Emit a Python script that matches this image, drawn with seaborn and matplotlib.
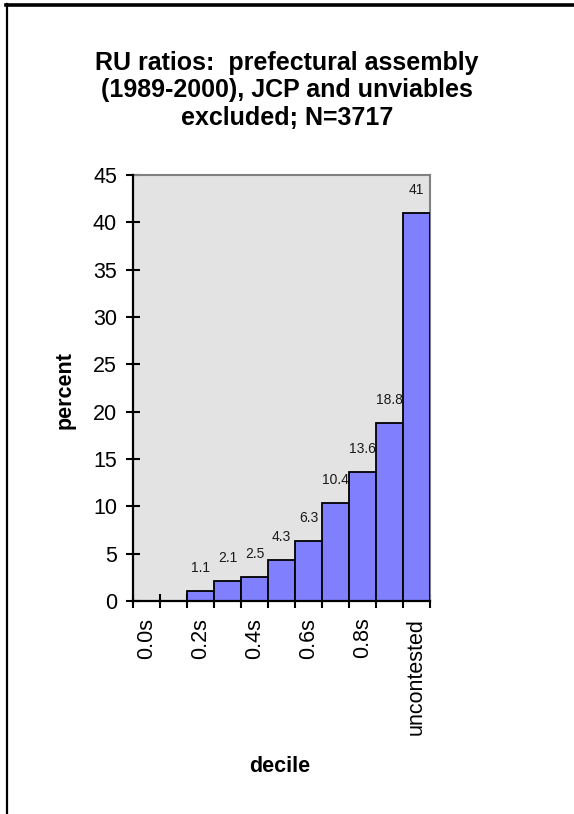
import numpy as np
import pandas as pd
import matplotlib
matplotlib.use("Agg")
import matplotlib.pyplot as plt
from matplotlib.lines import Line2D
import seaborn as sns

# Decile categories of the RU ratio, plus uncontested races
deciles = ["0.0s", "0.1s", "0.2s", "0.3s", "0.4s", "0.5s", "0.6s", "0.7s",
           "0.8s", "0.9s", "uncontested"]
percent = [0.0, 0.0, 1.1, 2.1, 2.5, 4.3, 6.3, 10.4, 13.6, 18.8, 41.0]
shown_labels = ["0.0s", "0.2s", "0.4s", "0.6s", "0.8s", "uncontested"]
y_ticks = [0, 5, 10, 15, 20, 25, 30, 35, 40, 45]

title = "RU ratios:  prefectural assembly\n(1989-2000), JCP and unviables\nexcluded; N=3717"

plt.rcParams["font.family"] = ["Liberation Sans", "DejaVu Sans"]

W, H = 574, 814
fig = plt.figure(figsize=(W / 100, H / 100), dpi=100)
fig.patch.set_facecolor("white")

left, right, top, bottom = 133, 430, 175, 601
ax = fig.add_axes([left / W, 1 - bottom / H, (right - left) / W, (bottom - top) / H])
ax.set_facecolor("#E3E3E3")

df = pd.DataFrame({"decile": deciles, "percent": percent})
sns.barplot(data=df, x="decile", y="percent", order=deciles, color="#8080FF",
            saturation=1, width=1.0, edgecolor="black", linewidth=1.3, ax=ax,
            zorder=3)

# value labels above each nonzero bar
for i, v in enumerate(percent):
    if v > 0:
        txt = f"{v:g}"
        ax.annotate(txt, (i, v), xytext=(0, 16.5), textcoords="offset points",
                    ha="center", va="center", fontsize=10, color="#1a1a1a",
                    zorder=2)

ax.set_xlim(-0.5, len(deciles) - 0.5)
ax.set_ylim(0, 45)
ax.set_yticks(y_ticks)
ax.set_yticklabels([str(t) for t in y_ticks], fontsize=15.5)

# boundary ticks between categories, labels on every other category
ax.set_xticks(np.arange(-0.5, len(deciles)), labels=[""] * (len(deciles) + 1))
ax.set_xticks([deciles.index(s) for s in shown_labels], labels=shown_labels,
              minor=True, rotation=90, fontsize=15.5)
ax.tick_params(axis="x", which="minor", length=0, pad=12)
ax.tick_params(axis="x", which="major", direction="inout", length=10, width=1.5)
ax.tick_params(axis="y", direction="inout", length=10, width=1.5, pad=6.5)

for side in ["left", "bottom"]:
    ax.spines[side].set_color("black")
    ax.spines[side].set_linewidth(1.6)
    ax.spines[side].set_zorder(5)
for side in ["top", "right"]:
    ax.spines[side].set_color("#808080")
    ax.spines[side].set_linewidth(1.5)

ax.set_xlabel("")
ax.set_ylabel("")
fig.text(65 / W, 1 - 390 / H, "percent", rotation=90, ha="center", va="center",
         fontsize=15.5, fontweight="bold")
fig.text(280 / W, 1 - 766 / H, "decile", ha="center", va="center",
         fontsize=15.5, fontweight="bold")
fig.text(287 / W, 1 - 90.5 / H, title, ha="center", va="center", fontsize=18,
         fontweight="bold", linespacing=1.16)

# page border lines
fig.add_artist(Line2D([6 / W, 1], [1 - 5 / H, 1 - 5 / H], color="black",
                      linewidth=2.6, transform=fig.transFigure))
fig.add_artist(Line2D([6.5 / W, 6.5 / W], [0, 1 - 4 / H], color="black",
                      linewidth=1.6, transform=fig.transFigure))

fig.savefig("out.png", dpi=100)
